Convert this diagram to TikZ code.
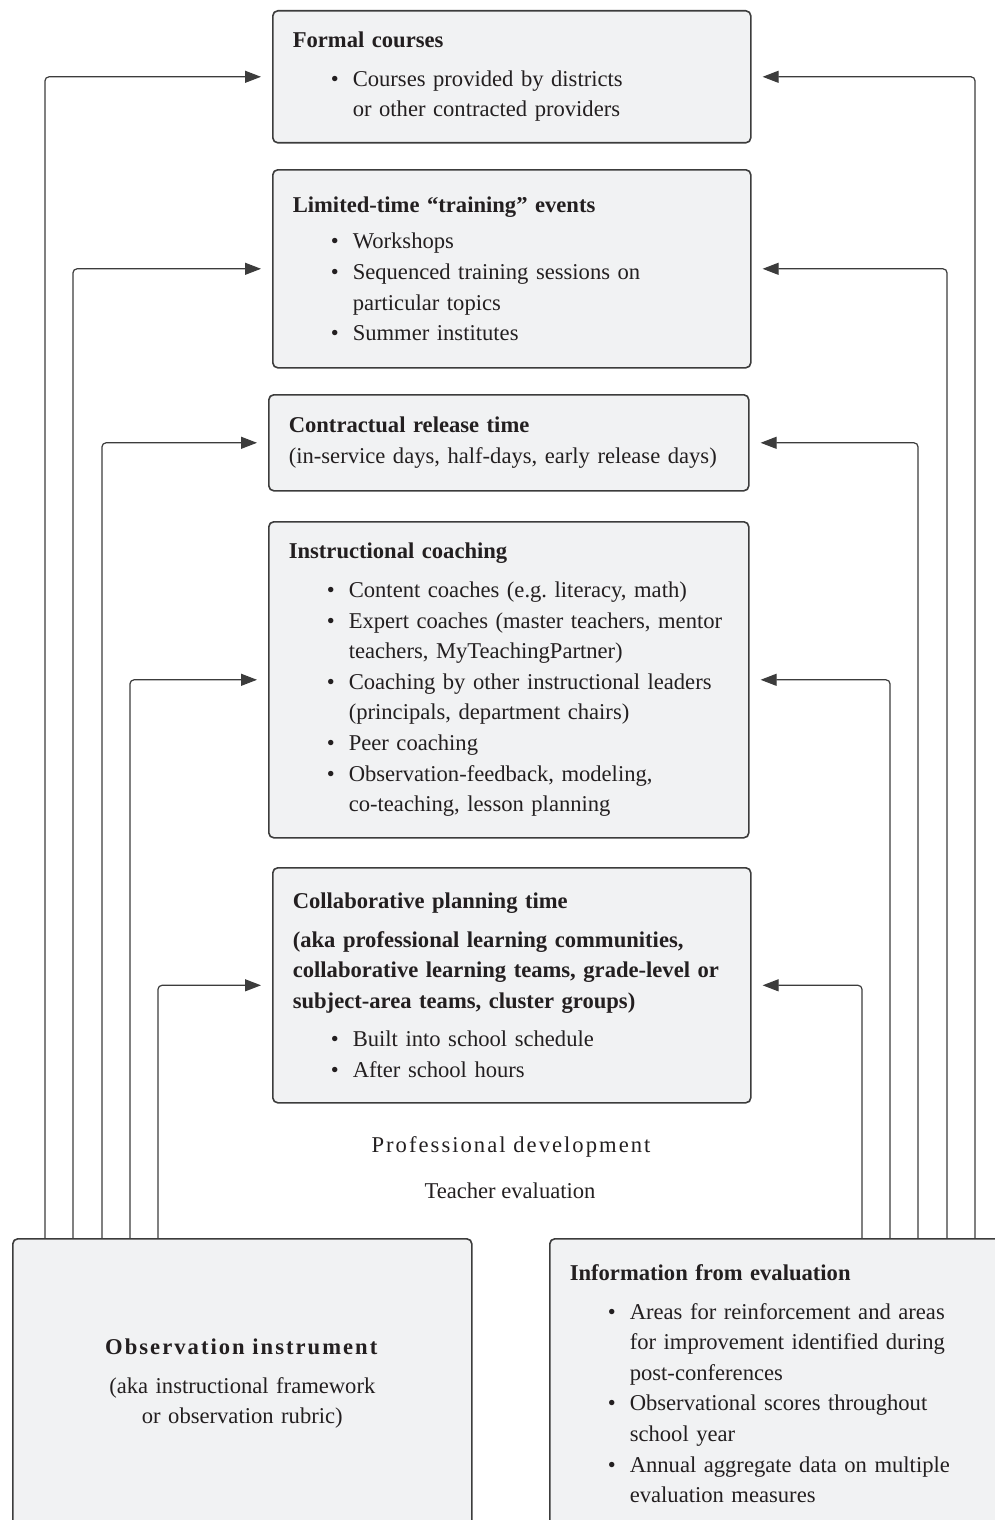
\documentclass[tikz,border=0pt]{standalone}
\usepackage{fontspec}
\setmainfont{Liberation Serif}
\usetikzlibrary{arrows.meta}
\definecolor{boxfill}{HTML}{F1F2F3}
\definecolor{boxline}{HTML}{3C3C3C}
\definecolor{inkcol}{HTML}{231F20}
\newcommand{\pdfont}{\fontsize{11.3}{15.3}\selectfont}
\newcommand{\pdbul}[1]{\par\hspace*{19pt}\makebox[11pt][l]{\textbullet}\mbox{#1}}
\newcommand{\pdcont}[1]{\par\hspace*{30pt}\mbox{#1}}
\newcommand{\pdspaced}[1]{{\addfontfeatures{LetterSpace=9}#1}}
\begin{document}
\begin{tikzpicture}[x=0.5pt,y=-0.5pt,
    pdbox/.style={draw=boxline, fill=boxfill, line width=0.8pt, rounded corners=2.5pt,
      anchor=north west, inner xsep=10pt, inner ysep=0pt, font=\pdfont, text=inkcol},
    pdlink/.style={draw=boxline, line width=0.6pt, rounded corners=2pt,
      -{Triangle[length=8pt,width=6pt]}, shorten >=5.5pt},
    pdtext/.style={font=\pdfont, text=inkcol}]
  \useasboundingbox (0,0) rectangle (995,1520);
  \clip (0,0) rectangle (995,1520);
  % professional development boxes
  \node[pdbox, text width=219pt, minimum height=66pt] (formal) at (272,10) {%
    \textbf{Formal courses}\par\vspace{4pt}
    \pdbul{Courses provided by districts}
    \pdcont{or other contracted providers}};
  \node[pdbox, text width=219pt, minimum height=99pt] (training) at (272,169) {%
    \textbf{Limited-time “training” events}\par\vspace{3pt}
    \pdbul{Workshops}
    \pdbul{Sequenced training sessions on}
    \pdcont{particular topics}
    \pdbul{Summer institutes}};
  \node[pdbox, text width=220pt, minimum height=48pt] (release) at (268,394) {%
    \textbf{Contractual release time}\par
    (in-service days, half-days, early release days)};
  \node[pdbox, text width=220pt, minimum height=158pt] (coaching) at (268,521) {%
    \textbf{Instructional coaching}\par\vspace{4pt}
    \pdbul{Content coaches (e.g.\ literacy, math)}
    \pdbul{Expert coaches (master teachers, mentor}
    \pdcont{teachers, MyTeachingPartner)}
    \pdbul{Coaching by other instructional leaders}
    \pdcont{(principals, department chairs)}
    \pdbul{Peer coaching}
    \pdbul{Observation-feedback, modeling,}
    \pdcont{co-teaching, lesson planning}};
  \node[pdbox, text width=219pt, minimum height=117.5pt] (collab) at (272,867) {%
    \textbf{Collaborative planning time}\par\vspace{4pt}
    \textbf{(aka professional learning communities,}\par
    \textbf{collaborative learning teams, grade-level or}\par
    \textbf{subject-area teams, cluster groups)}\par\vspace{4pt}
    \pdbul{Built into school schedule}
    \pdbul{After school hours}};
  % labels between the two parts
  \node[pdtext] (pdlabel) at (511,1147) {\pdspaced{Professional development}};
  \node[pdtext] (evlabel) at (510,1191) {Teacher evaluation};
  % teacher evaluation boxes
  \node[pdbox, text width=209.5pt, minimum height=145pt, align=center] (obs) at (12,1238) {%
    \textbf{\pdspaced{Observation instrument}}\par\vspace{4pt}
    (aka instructional framework\\ or observation rubric)};
  \node[pdbox, text width=209.5pt, minimum height=145pt] (info) at (549,1238) {%
    \textbf{Information from evaluation}\par\vspace{4pt}
    \pdbul{Areas for reinforcement and areas}
    \pdcont{for improvement identified during}
    \pdcont{post-conferences}
    \pdbul{Observational scores throughout}
    \pdcont{school year}
    \pdbul{Annual aggregate data on multiple}
    \pdcont{evaluation measures}};
  % where the feedback lines run
  \coordinate (l1) at (45,0);
  \coordinate (l2) at (73,0);
  \coordinate (l3) at (102,0);
  \coordinate (l4) at (130,0);
  \coordinate (l5) at (158,0);
  \coordinate (r1) at (975,0);
  \coordinate (r2) at (947,0);
  \coordinate (r3) at (918,0);
  \coordinate (r4) at (890,0);
  \coordinate (r5) at (862,0);
  \draw[pdlink] (obs.north -| l1) |- (formal.west);
  \draw[pdlink] (obs.north -| l2) |- (training.west);
  \draw[pdlink] (obs.north -| l3) |- (release.west);
  \draw[pdlink] (obs.north -| l4) |- (coaching.west);
  \draw[pdlink] (obs.north -| l5) |- (collab.west);
  \draw[pdlink] (info.north -| r1) |- (formal.east);
  \draw[pdlink] (info.north -| r2) |- (training.east);
  \draw[pdlink] (info.north -| r3) |- (release.east);
  \draw[pdlink] (info.north -| r4) |- (coaching.east);
  \draw[pdlink] (info.north -| r5) |- (collab.east);
\end{tikzpicture}
\end{document}
